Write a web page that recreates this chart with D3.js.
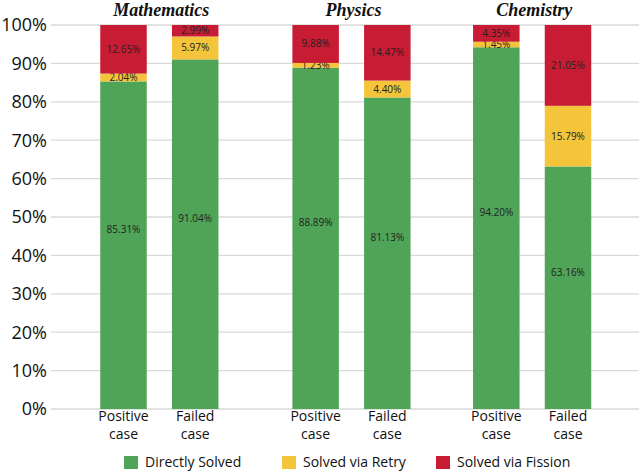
<!DOCTYPE html>
<html>
<head>
<meta charset="utf-8">
<script src="https://cdn.jsdelivr.net/npm/d3@7"></script>
<style>
  html, body { margin: 0; padding: 0; background: #fff; }
  svg { display: block; }
</style>
</head>
<body>
<svg id="chart" width="639" height="472"></svg>
<script>
// ---- data ----
const subjects = ["Mathematics", "Physics", "Chemistry"];
const cases = ["Positive case", "Failed case"];
const seriesNames = ["Directly Solved", "Solved via Retry", "Solved via Fission"];
// values per subject, per case (percent)
const directlySolved = [[85.31, 91.04], [88.89, 81.13], [94.20, 63.16]];
const solvedViaRetry = [[2.04, 5.97], [1.23, 4.40], [1.45, 15.79]];
const solvedViaFission = [[12.65, 2.99], [9.88, 14.47], [4.35, 21.05]];
const yTicks = [0, 10, 20, 30, 40, 50, 60, 70, 80, 90, 100];

// ---- style / layout ----
const colors = ["#50A458", "#F4C43A", "#C81C34"];
const groupOffset = [0, 2.68, 5.2];
const font = "'Open Sans', 'Noto Sans', sans-serif";

const svg = d3.select("#chart");
const y = d3.scaleLinear().domain([0, 100]).range([409, 25]);
const x = d3.scaleLinear().domain([0, 6.2]).range([123.5, 568]);
const barW = 46.5;

// gridlines
svg.append("g").selectAll("line").data(yTicks).join("line")
  .attr("x1", 51).attr("x2", 639)
  .attr("y1", d => y(d)).attr("y2", d => y(d))
  .attr("stroke", "#d9d9d9").attr("stroke-width", 1.3);

// y axis labels
svg.append("g").selectAll("text").data(yTicks).join("text")
  .attr("x", 47).attr("y", d => y(d))
  .attr("dy", "0.36em")
  .attr("text-anchor", "end")
  .attr("font-family", font).attr("font-size", 18).attr("fill", "#111")
  .text(d => d + "%");

const series = [directlySolved, solvedViaRetry, solvedViaFission];

subjects.forEach((subj, gi) => {
  cases.forEach((c, ci) => {
    const cx = x(groupOffset[gi] + ci);
    let base = 0;
    series.forEach((s, si) => {
      const v = s[gi][ci];
      svg.append("rect")
        .attr("x", cx - barW / 2)
        .attr("y", y(base + v))
        .attr("width", barW)
        .attr("height", y(base) - y(base + v))
        .attr("fill", colors[si]);
      const mid = si === 0 ? (base + v) / 2 + 4 : base + v / 2;
      svg.append("text")
        .attr("x", cx).attr("y", y(mid))
        .attr("dy", "0.35em")
        .attr("text-anchor", "middle")
        .attr("font-family", font).attr("font-size", 10).attr("fill", "#222")
        .text(v.toFixed(2) + "%");
      base += v;
    });
    // category labels
    const parts = c.split(" ");
    svg.append("text")
      .attr("x", cx).attr("y", 421)
      .attr("text-anchor", "middle")
      .attr("font-family", font).attr("font-size", 14).attr("fill", "#111")
      .text(parts[0]);
    svg.append("text")
      .attr("x", cx).attr("y", 439)
      .attr("text-anchor", "middle")
      .attr("font-family", font).attr("font-size", 14).attr("fill", "#111")
      .text(parts[1]);
  });
  // subject title
  const gc = (x(groupOffset[gi]) + x(groupOffset[gi] + 1)) / 2 + 2;
  svg.append("text")
    .attr("x", gc).attr("y", 16)
    .attr("text-anchor", "middle")
    .attr("font-family", "'Liberation Serif', 'Times New Roman', serif")
    .attr("font-weight", "bold").attr("font-style", "italic")
    .attr("font-size", 18).attr("fill", "#111")
    .text(subj);
});

// legend
const legendX = [124, 282, 436];
const lg = svg.append("g");
seriesNames.forEach((n, i) => {
  lg.append("rect")
    .attr("x", legendX[i]).attr("y", 456)
    .attr("width", 14).attr("height", 13)
    .attr("fill", colors[i]);
  lg.append("text")
    .attr("x", legendX[i] + 21).attr("y", 462.5)
    .attr("dy", "0.35em")
    .attr("font-family", font).attr("font-size", 14).attr("fill", "#111")
    .text(n);
});
</script>
</body>
</html>
